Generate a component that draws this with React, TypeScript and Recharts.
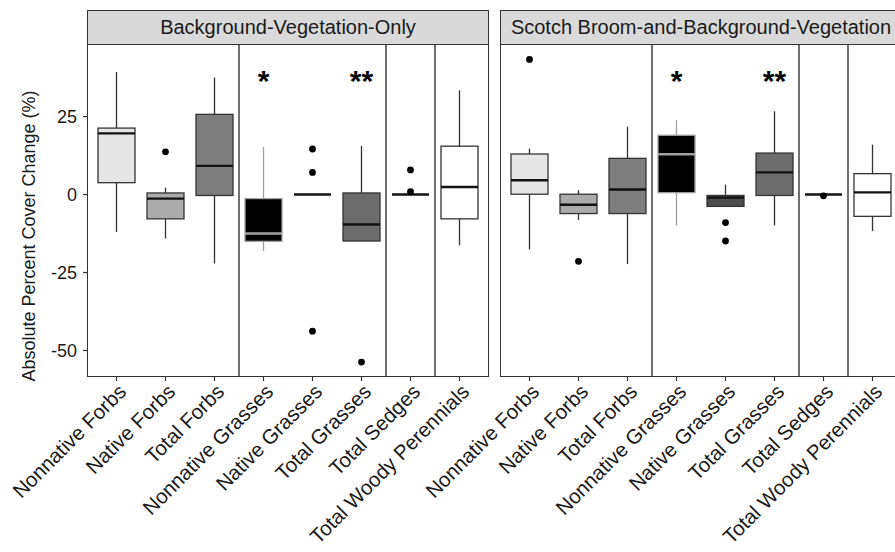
import React from 'react';
import { ComposedChart, Bar, Scatter, XAxis, YAxis, ReferenceLine } from 'recharts';

// ---------- data ----------
const categories = [
  'Nonnative Forbs',
  'Native Forbs',
  'Total Forbs',
  'Nonnative Grasses',
  'Native Grasses',
  'Total Grasses',
  'Total Sedges',
  'Total Woody Perennials',
];

const panelTitles = ['Background-Vegetation-Only', 'Scotch Broom-and-Background-Vegetation'];
const yTitle = 'Absolute Percent Cover Change (%)';
const yTicks = [-50, -25, 0, 25];
const yDomain: [number, number] = [-58.5, 48.1];

const sigLabels = ['', '', '', '*', '', '**', '', ''];
const sigLevel = 38;

// Background-Vegetation-Only
const bvoLow = [-12.0, -14.1, -22.1, -18.1, 0, -14.9, 0, -16.3];
const bvoQ1 = [3.8, -7.8, -0.3, -15.0, 0, -14.9, 0, -7.8];
const bvoMed = [19.6, -1.3, 9.2, -12.5, 0, -9.6, 0, 2.4];
const bvoQ3 = [21.3, 0.5, 25.7, -1.3, 0, 0.5, 0, 15.5];
const bvoHigh = [39.3, 2.2, 37.5, 15.3, 0, 15.6, 0, 33.4];
const bvoOutliers = [[], [13.7], [], [], [14.6, 7.1, -43.8], [-53.7], [7.9, 0.9], []];

// Scotch Broom-and-Background-Vegetation
const sbLow = [-17.6, -8.2, -22.3, -9.9, -3.8, -9.9, 0, -11.7];
const sbQ1 = [0.1, -6.1, -6.1, 0.6, -3.8, -0.3, 0, -7.0];
const sbMed = [4.6, -3.3, 1.6, 12.9, -1.0, 7.1, 0, 0.7];
const sbQ3 = [13.0, 0.1, 11.6, 19.0, -0.3, 13.3, 0, 6.7];
const sbHigh = [14.7, 1.4, 21.7, 23.8, 3.2, 26.7, 0, 16.0];
const sbOutliers = [[43.3], [-21.4], [], [], [-9.0, -14.9], [], [-0.4], []];

// ---------- styles ----------
const FONT = '"Liberation Sans", Arial, Helvetica, sans-serif';
const TEXT = '#1a1a1a';
const BORDER = '#333333';
const BOX_W = 37;
const FILL: Record<string, string> = {
  'Nonnative Forbs': '#E6E6E6',
  'Native Forbs': '#ABABAB',
  'Total Forbs': '#7E7E7E',
  'Nonnative Grasses': '#000000',
  'Native Grasses': '#4E4E4E',
  'Total Grasses': '#6C6C6C',
  'Total Sedges': '#3A3A3A',
  'Total Woody Perennials': '#FFFFFF',
};
const lineColor = (cat: string) => (cat === 'Nonnative Grasses' ? '#A0A0A0' : BORDER);

function buildRows(lo: number[], q1: number[], med: number[], q3: number[], hi: number[], outl: number[][]) {
  return categories.map((cat, i) => ({
    cat,
    whisk: [lo[i], hi[i]],
    box: [q1[i], q3[i]],
    med: med[i],
    o1: outl[i][0] ?? null,
    o2: outl[i][1] ?? null,
    o3: outl[i][2] ?? null,
    sig: sigLabels[i] ? sigLevel : null,
    sigText: sigLabels[i],
  }));
}

const WhiskerShape = (p: any) => {
  const { x, y, width, height, payload } = p;
  if (x == null || y == null) return null;
  const cx = x + width / 2;
  const top = Math.min(y, y + height);
  const bot = Math.max(y, y + height);
  return <line x1={cx} x2={cx} y1={top} y2={bot} stroke={lineColor(payload.cat)} strokeWidth={1.3} />;
};

const BoxShape = (p: any) => {
  const { x, y, width, height, payload } = p;
  if (x == null || y == null) return null;
  const top = Math.min(y, y + height);
  const h = Math.abs(height);
  return (
    <rect x={x} y={top} width={width} height={h} fill={FILL[payload.cat]} stroke={lineColor(payload.cat)} strokeWidth={1.3} />
  );
};

const MedianShape = (p: any) => {
  const { cx, cy, payload } = p;
  if (cx == null || cy == null || isNaN(cy)) return null;
  return (
    <line x1={cx - BOX_W / 2} x2={cx + BOX_W / 2} y1={cy} y2={cy} stroke={payload.cat === 'Nonnative Grasses' ? '#A0A0A0' : '#111111'} strokeWidth={2.4} />
  );
};

const OutlierShape = (p: any) => {
  const { cx, cy } = p;
  if (cx == null || cy == null || isNaN(cy)) return null;
  return <circle cx={cx} cy={cy} r={3.4} fill="#000" />;
};

const SigShape = (p: any) => {
  const { cx, cy, payload } = p;
  if (cx == null || cy == null || isNaN(cy) || !payload.sigText) return null;
  return (
    <text x={cx} y={cy + 15} textAnchor="middle" fontSize={30} fontWeight="bold" fontFamily={FONT} fill="#000">
      {payload.sigText}
    </text>
  );
};

const XTick = (p: any) => {
  const { x, y, payload } = p;
  return (
    <g transform={`translate(${x + 11},${y + 10})`}>
      <text x={0} y={0} transform="rotate(-45)" textAnchor="end" fontSize={20.5} fontFamily={FONT} fill={TEXT}>
        {payload.value}
      </text>
    </g>
  );
};

const renderYTitle = () => (
  <text x={35} y={236} transform="rotate(-90 35 236)" textAnchor="middle" fontSize={18} fontFamily={FONT} fill={TEXT}>
    {yTitle}
  </text>
);

const PLOT_TOP = 44.5;
const XAXIS_H = 175;
const PLOT_W = 402;
const PLOT_H = 552 - PLOT_TOP - XAXIS_H;

function Panel({ rows, showY }: { rows: any[]; showY: boolean }) {
  const leftMargin = showY ? 0 : 205;
  const width = showY ? 87 + PLOT_W + 6 : leftMargin + PLOT_W + 10;
  return (
    <ComposedChart
      width={width}
      height={552}
      data={rows}
      margin={{ top: PLOT_TOP, right: width - leftMargin - (showY ? 87 : 0) - PLOT_W, bottom: 0, left: leftMargin }}
    >
      <XAxis
        xAxisId="main"
        dataKey="cat"
        type="category"
        interval={0}
        padding={{ left: 5, right: 5 }}
        height={XAXIS_H}
        axisLine={false}
        tickLine={{ stroke: BORDER, strokeWidth: 1.2 }}
        tickSize={4}
        tick={<XTick />}
      />
      <XAxis xAxisId="w" dataKey="cat" type="category" hide padding={{ left: 5, right: 5 }} />
      {showY ? (
        <YAxis
          type="number"
          domain={yDomain}
          ticks={yTicks}
          width={87}
          axisLine={false}
          tickLine={{ stroke: BORDER, strokeWidth: 1.2 }}
          tickSize={4}
          tickMargin={6}
          tick={{ fontSize: 18, fontFamily: FONT, fill: TEXT }}
          label={renderYTitle}
        />
      ) : (
        <YAxis type="number" domain={yDomain} ticks={yTicks} hide />
      )}
      <ReferenceLine xAxisId="main" x="Total Forbs" position="end" stroke={BORDER} strokeWidth={1.4} />
      <ReferenceLine xAxisId="main" x="Total Grasses" position="end" stroke={BORDER} strokeWidth={1.4} />
      <ReferenceLine xAxisId="main" x="Total Sedges" position="end" stroke={BORDER} strokeWidth={1.4} />
      <Bar xAxisId="w" dataKey="whisk" barSize={BOX_W} shape={WhiskerShape} isAnimationActive={false} />
      <Bar xAxisId="main" dataKey="box" barSize={BOX_W} shape={BoxShape} isAnimationActive={false} />
      <Scatter xAxisId="main" dataKey="med" shape={MedianShape} isAnimationActive={false} />
      <Scatter xAxisId="main" dataKey="o1" shape={OutlierShape} isAnimationActive={false} />
      <Scatter xAxisId="main" dataKey="o2" shape={OutlierShape} isAnimationActive={false} />
      <Scatter xAxisId="main" dataKey="o3" shape={OutlierShape} isAnimationActive={false} />
      <Scatter xAxisId="main" dataKey="sig" shape={SigShape} isAnimationActive={false} />
    </ComposedChart>
  );
}

const stripStyle = (left: number): React.CSSProperties => ({
  position: 'absolute',
  left,
  top: 9.5,
  width: PLOT_W,
  height: PLOT_TOP - 9.5,
  boxSizing: 'border-box',
  background: '#D9D9D9',
  border: `1.3px solid ${BORDER}`,
  fontFamily: FONT,
  fontSize: 20,
  color: TEXT,
  textAlign: 'center',
  lineHeight: `${PLOT_TOP - 9.5 - 2.6}px`,
  whiteSpace: 'nowrap',
  overflow: 'visible',
});

const borderStyle = (left: number): React.CSSProperties => ({
  position: 'absolute',
  left,
  top: PLOT_TOP - 1,
  width: PLOT_W,
  height: PLOT_H + 1,
  boxSizing: 'border-box',
  border: `1.4px solid ${BORDER}`,
  pointerEvents: 'none',
});

export default function App() {
  const leftRows = buildRows(bvoLow, bvoQ1, bvoMed, bvoQ3, bvoHigh, bvoOutliers);
  const rightRows = buildRows(sbLow, sbQ1, sbMed, sbQ3, sbHigh, sbOutliers);
  return (
    <div style={{ position: 'absolute', left: 0, top: 0, width: 895, height: 552, overflow: 'hidden', background: '#fff' }}>
      <div style={{ position: 'absolute', left: 0, top: 0 }}>
        <Panel rows={leftRows} showY={true} />
      </div>
      <div style={{ position: 'absolute', left: 295, top: 0 }}>
        <Panel rows={rightRows} showY={false} />
      </div>
      <div style={stripStyle(87)}>{panelTitles[0]}</div>
      <div style={stripStyle(500)}>{panelTitles[1]}</div>
      <div style={borderStyle(87)} />
      <div style={borderStyle(500)} />
    </div>
  );
}
